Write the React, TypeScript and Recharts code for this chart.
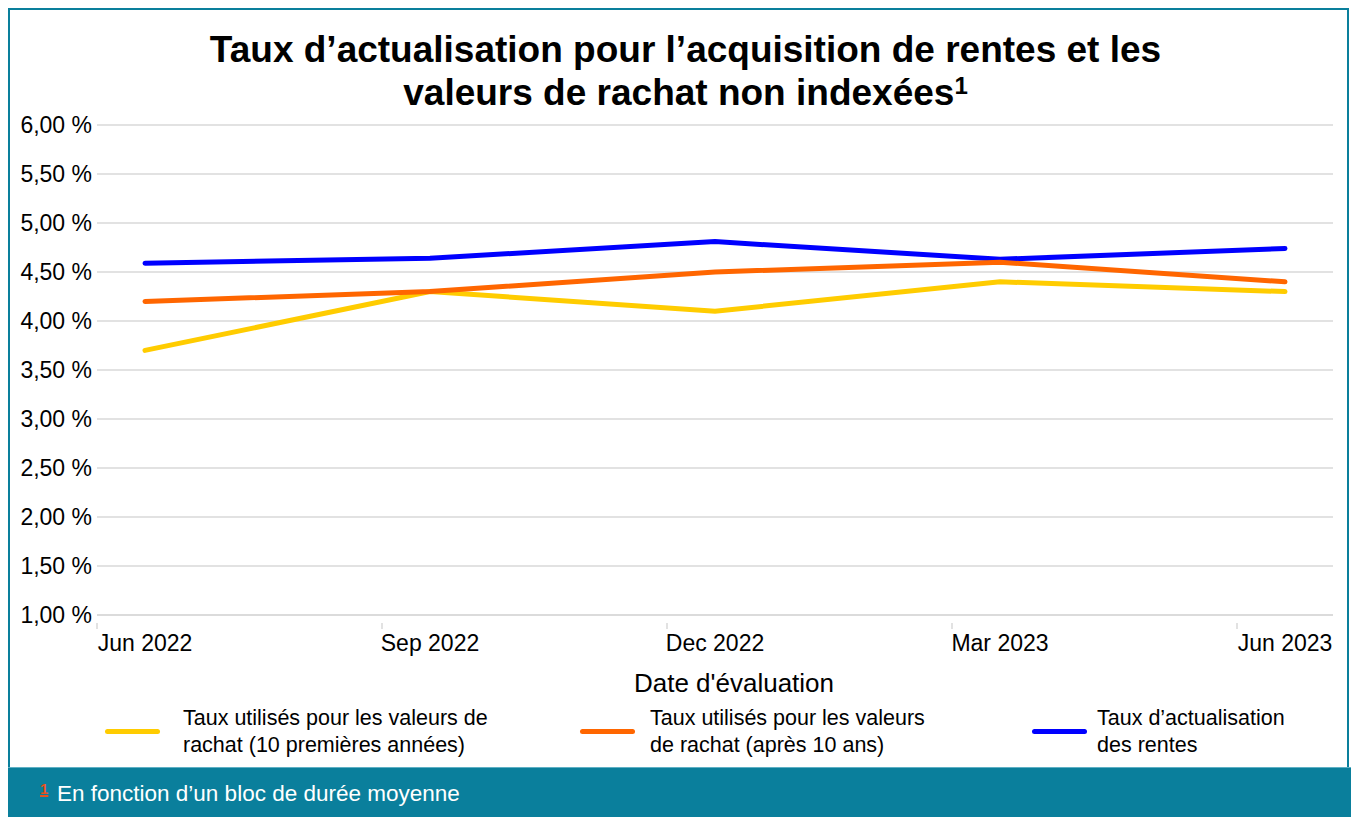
import { LineChart, Line, XAxis, YAxis, CartesianGrid, Legend } from 'recharts';

const dates = ['Jun 2022', 'Sep 2022', 'Dec 2022', 'Mar 2023', 'Jun 2023'];
const premieresAnnees = [3.7, 4.3, 4.1, 4.4, 4.3];
const apres10Ans = [4.2, 4.3, 4.5, 4.6, 4.4];
const rentes = [4.59, 4.64, 4.81, 4.63, 4.74];
const yTicks = [1, 1.5, 2, 2.5, 3, 3.5, 4, 4.5, 5, 5.5, 6];

const seriesInfo = [
  { key: 'premieres', color: '#FFCC00', lines: ['Taux utilisés pour les valeurs de', 'rachat (10 premières années)'] },
  { key: 'apres', color: '#FF6600', lines: ['Taux utilisés pour les valeurs', 'de rachat (après 10 ans)'] },
  { key: 'rentes', color: '#0000FF', lines: ['Taux d\u2019actualisation', 'des rentes'] },
];

const data = dates.map((d, i) => ({
  date: d,
  premieres: premieresAnnees[i],
  apres: apres10Ans[i],
  rentes: rentes[i],
}));

const FONT = '"Liberation Sans", Arial, sans-serif';
const TEAL = '#0A7F9C';
const PAD = 48;

const fmtPct = (v: number) => v.toFixed(2).replace('.', ',') + ' %';

// ticks sit one padding to the left of each point, label is centered on the point
const XTick = (props: any) => {
  const { x, y, payload } = props;
  return (
    <g>
      <line x1={x - PAD} y1={y} x2={x - PAD} y2={y + 6} stroke="#d9d9d9" strokeWidth={1.5} />
      <text x={x} y={y + 28} textAnchor="middle" fontSize={23} fontFamily={FONT} fill="#000">
        {payload.value}
      </text>
    </g>
  );
};

const LegendBox = () => {
  const lineX = [105, 580, 1032];
  const textX = [183, 650, 1097];
  return (
    <div style={{ position: 'relative', width: 1351, height: 60, fontFamily: FONT }}>
      {seriesInfo.map((s, i) => (
        <div key={s.key}>
          <div
            style={{
              position: 'absolute',
              left: lineX[i],
              top: 16,
              width: 55,
              height: 5,
              borderRadius: 3,
              background: s.color,
            }}
          />
          <div
            style={{
              position: 'absolute',
              left: textX[i],
              top: -8,
              fontSize: 21.5,
              lineHeight: '27px',
              color: '#000',
              whiteSpace: 'nowrap',
            }}
          >
            {s.lines[0]}
            <br />
            {s.lines[1]}
          </div>
        </div>
      ))}
    </div>
  );
};

export default function App() {
  return (
    <div style={{ position: 'absolute', left: 0, top: 0, width: 1351, height: 817, background: '#fff', overflow: 'hidden' }}>
      <div
        style={{
          position: 'absolute',
          left: 8,
          top: 8,
          width: 1341,
          height: 760,
          borderLeft: `2px solid ${TEAL}`,
          borderRight: `2px solid ${TEAL}`,
          borderTop: `2px solid ${TEAL}`,
          boxSizing: 'border-box',
        }}
      />
      <div
        style={{
          position: 'absolute',
          left: 0,
          top: 28,
          width: 1371,
          textAlign: 'center',
          fontFamily: FONT,
          fontWeight: 'bold',
          fontSize: 37,
          lineHeight: '43px',
          color: '#000',
        }}
      >
        Taux d’actualisation pour l’acquisition de rentes et les
        <br />
        valeurs de rachat non indexées<sup style={{ fontSize: 24, verticalAlign: 'top', lineHeight: '30px' }}>1</sup>
      </div>
      <div style={{ position: 'absolute', left: 0, top: 0 }}>
        <LineChart
          width={1351}
          height={767}
          data={data}
          margin={{ top: 125, right: 18, bottom: 0, left: 8 }}
        >
          <CartesianGrid vertical={false} stroke="#d9d9d9" strokeWidth={1.5} />
          <XAxis
            dataKey="date"
            padding={{ left: PAD, right: PAD }}
            axisLine={{ stroke: '#d9d9d9', strokeWidth: 1.5 }}
            tickLine={false}
            tick={<XTick />}
            height={98}
            interval={0}
            label={{ value: "Date d'évaluation", position: 'insideBottom', offset: 21, dx: 19, fontSize: 26, fontFamily: FONT, fill: '#000' }}
          />
          <YAxis
            domain={[1, 6]}
            ticks={yTicks}
            tickFormatter={fmtPct}
            axisLine={false}
            tickLine={false}
            width={89}
            tickMargin={0}
            tick={{ fontSize: 23, fontFamily: FONT, fill: '#000', dx: 1 }}
          />
          <Legend verticalAlign="bottom" height={54} content={() => <LegendBox />} wrapperStyle={{ left: 0, bottom: 0 }} />
          <Line dataKey="rentes" stroke="#0000FF" strokeWidth={5} dot={false} strokeLinecap="round" isAnimationActive={false} />
          <Line dataKey="premieres" stroke="#FFCC00" strokeWidth={5} dot={false} strokeLinecap="round" isAnimationActive={false} />
          <Line dataKey="apres" stroke="#FF6600" strokeWidth={5} dot={false} strokeLinecap="round" isAnimationActive={false} />
        </LineChart>
      </div>
      <div
        style={{
          position: 'absolute',
          left: 8,
          top: 767,
          width: 1343,
          height: 50,
          background: TEAL,
          borderTop: '1px solid #5fb0c4',
          boxSizing: 'border-box',
          fontFamily: FONT,
          color: '#fff',
          fontSize: 22.5,
        }}
      >
        <span
          style={{
            position: 'absolute',
            left: 32,
            top: 12,
            color: '#E8521E',
            fontSize: 15,
            fontWeight: 'bold',
            lineHeight: '17px',
            textDecoration: 'underline',
            textDecorationThickness: 2,
          }}
        >
          1
        </span>
        <span style={{ position: 'absolute', left: 49, top: 13, whiteSpace: 'nowrap' }}>
          En fonction d’un bloc de durée moyenne
        </span>
      </div>
    </div>
  );
}
